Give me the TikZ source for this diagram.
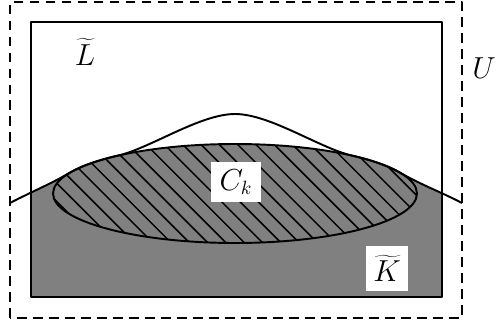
\documentclass[tikz,border=0pt]{standalone}
\begin{document}
\begin{tikzpicture}[x=0.02cm,y=0.02cm,line join=round,
  mainline/.style={line width=1.1pt},
  hatchline/.style={line width=0.85pt},
  lab/.style={font=\fontsize{16}{19}\selectfont},
  whitebox/.style={fill=white,inner sep=0pt}]
\useasboundingbox (0,0) rectangle (496,325);
\def\rx{3.64cm}\def\ry{0.99cm}
\coordinate (S) at (10,122);
\coordinate (E) at (462,122);
\coordinate (O) at (235,131.5);
\coordinate (A) at (70.05,152.42);
\coordinate (P) at (235,211);
\coordinate (D) at (399.95,152.42);
% gray region under the curve
\begin{scope}
\clip (31,28) rectangle (442,303);
\fill[gray] (S) .. controls (30,132.5) and (50.05,140.7) .. (A)
  arc[start angle=155,end angle=25,x radius=\rx,y radius=\ry]
  .. controls (419.95,140.7) and (442,132.5) .. (E) -- (470,0) -- (0,0) -- cycle;
\end{scope}
% hatched ellipse
\fill[gray] (O) ellipse[x radius=\rx,y radius=\ry];
\begin{scope}
\clip (O) ellipse[x radius=\rx,y radius=\ry];
\foreach \k in {-17,...,9}{
  \pgfmathsetmacro\c{35+18.3*\k}
  \draw[hatchline] (40,{285-\c}) -- (430,{-105-\c});
}
\end{scope}
\draw[mainline] (O) ellipse[x radius=\rx,y radius=\ry];
% curve
\draw[mainline] (S) .. controls (30,132.5) and (50.05,140.7) .. (A)
  arc[start angle=155,end angle=130,x radius=\rx,y radius=\ry]
  .. controls (150.1,176.7) and (200,211) .. (P)
  .. controls (270,211) and (319.9,176.7) .. (351.99,169.42)
  arc[start angle=50,end angle=25,x radius=\rx,y radius=\ry]
  .. controls (419.95,140.7) and (442,132.5) .. (E);
% rectangles
\draw[mainline] (31,28) rectangle (442,303);
\draw[mainline,dash pattern=on 5.5pt off 3.6pt] (10,7) rectangle (462,323);
% labels
\node[lab,whitebox,minimum width=28.4pt,minimum height=22.7pt] (ck) at (236,143) {$C_k$};
\node[lab,whitebox,minimum width=23.8pt,minimum height=25.5pt] (kt) at (387,56.5) {$\widetilde{K}$};
\node[lab] (lt) at (85,273) {$\widetilde{L}$};
\node[lab] (u) at (484,257) {$U$};
\end{tikzpicture}
\end{document}
